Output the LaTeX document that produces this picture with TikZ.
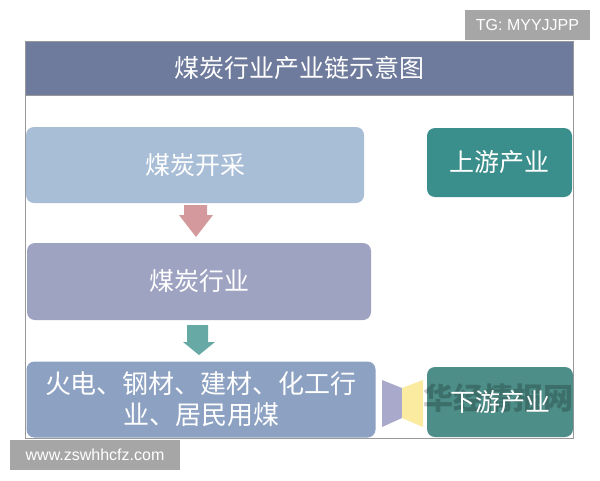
\documentclass[tikz,border=0pt]{standalone}
\usepackage{fontspec}
\newfontfamily\cjk{Noto Sans CJK SC}
\newfontfamily\lat{Liberation Sans}
\definecolor{hdr}{HTML}{6F7B9C}
\definecolor{boxa}{HTML}{A8BDD6}
\definecolor{boxb}{HTML}{9FA3C2}
\definecolor{boxc}{HTML}{8DA2C2}
\definecolor{tealA}{HTML}{3A8E8B}
\definecolor{tealB}{HTML}{4E8E88}
\definecolor{arrA}{HTML}{D4999C}
\definecolor{arrB}{HTML}{67AAA5}
\definecolor{bowA}{HTML}{A9A9CC}
\definecolor{bowB}{HTML}{FBEBA0}
\definecolor{wmgray}{HTML}{A6A6A6}
\begin{document}
\begin{tikzpicture}[x=1pt,y=-1pt,
  blk/.style={rounded corners=8pt,inner sep=0pt,text=white,font=\cjk\fontsize{25}{30}\selectfont,align=center},
  wm/.style={fill=wmgray,inner sep=0pt,text=white,font=\lat\fontsize{16}{18}\selectfont}]
\useasboundingbox (0,0) rectangle (600,480);
\fill[white] (0,0) rectangle (600,480);
% frame
\node[draw=gray!80,line width=0.8pt,fill=white,minimum width=548pt,minimum height=397pt,inner sep=0pt] (frame) at (299,239.5) {};
\node[fill=hdr,draw=gray!80,line width=0.8pt,minimum width=548pt,minimum height=54pt,inner sep=0pt,text=white,font=\cjk\fontsize{25}{30}\selectfont] (title) at (299,68) {煤炭行业产业链示意图};
% boxes
\node[blk,fill=boxa,minimum width=338pt,minimum height=76pt] (mine) at (195,165) {煤炭开采};
\node[blk,fill=tealA,minimum width=145pt,minimum height=69pt] (up) at (499.5,162.5) {上游产业};
\node[blk,fill=boxb,minimum width=344pt,minimum height=77pt] (ind) at (199,281.5) {煤炭行业};
\node[blk,fill=boxc,minimum width=349pt,minimum height=76pt,font=\cjk\fontsize{26}{31}\selectfont] (use) at (201,399.5) {火电、钢材、建材、化工行\\业、居民用煤};
\node[blk,fill=tealB,minimum width=146pt,minimum height=70pt] (down) at (500,402) {};
\node[opacity=0.22,text=black,font=\cjk\bfseries\fontsize{30}{32}\selectfont] (wmk) at (498,398) {华经情报网};
\node[text=white,font=\cjk\fontsize{25}{30}\selectfont] (downt) at (500,402) {下游产业};
% block arrows
\fill[arrA] (184,205) -- (207,205) -- (207,215) -- (213,215) -- (196,237) -- (179,215) -- (184,215) -- cycle;
\fill[arrB] (187,325) -- (208,325) -- (208,342) -- (215,342) -- (199,355) -- (183,342) -- (187,342) -- cycle;
% bow tie
\fill[bowA] (382,380) -- (402,388) -- (402,418) -- (382,427) -- cycle;
\fill[bowB] (402,388) -- (423,380) -- (423,427) -- (402,418) -- cycle;
% watermark labels
\node[wm,minimum width=125pt,minimum height=30pt] (tg) at (527.5,25) {TG: MYYJJPP};
\node[wm,minimum width=170pt,minimum height=30pt] (www) at (95,455) {www.zswhhcfz.com};
\end{tikzpicture}
\end{document}
